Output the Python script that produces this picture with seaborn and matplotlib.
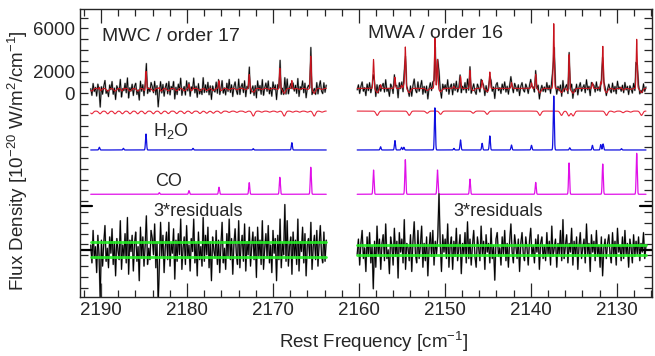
import numpy as np
import pandas as pd
import matplotlib
matplotlib.use('Agg')
import matplotlib.pyplot as plt
from matplotlib.ticker import MultipleLocator, FixedLocator
import seaborn as sns

sns.set_style('ticks')
plt.rcParams['font.family'] = ['Liberation Sans', 'DejaVu Sans']
plt.rcParams['mathtext.fontset'] = 'custom'
plt.rcParams['mathtext.rm'] = 'Liberation Sans'
plt.rcParams['mathtext.it'] = 'Liberation Sans:italic'

# spectral orders (start, end) in cm^-1
segments = [(2191.2, 2163.8), (2160.2, 2126.6)]
panel_names = ['MWC / order 17', 'MWA / order 16']

# CO emission lines
co_freq = [2183.22, 2179.77, 2176.28, 2172.76, 2169.20, 2165.60, 2158.30, 2154.60,
           2150.86, 2147.08, 2139.43, 2135.55, 2131.63, 2127.68]
co_height = [150, 340, 650, 1080, 1570, 2500, 2250, 3200, 2250, 1400, 1100, 2900, 2800, 3800]

# H2O emission lines
h2o_freq = [2190.2, 2187.4, 2184.77, 2179.3, 2172.3, 2167.8, 2157.48, 2155.81, 2155.04,
            2154.77, 2151.16, 2148.95, 2148.18, 2145.66, 2144.77, 2142.25, 2139.92,
            2137.33, 2135.47, 2132.83, 2131.86, 2131.59, 2129.45]
h2o_height = [250, 150, 1480, 150, 120, 680, 300, 870, 250, 250, 3900, 150, 930, 620,
              1300, 460, 430, 5000, 200, 430, 500, 560, 120]

# absorption dips in the model
dip_freq = [2191.08, 2190.12, 2189.22, 2188.37, 2187.52, 2186.63, 2185.73, 2184.88, 2183.92,
            2183.02, 2182.17, 2181.2, 2180.31, 2179.45, 2178.49, 2177.7, 2176.94, 2176.05,
            2175.1, 2174.2, 2173.2, 2172.29, 2171.3, 2170.4, 2169.5, 2168.69, 2167.7, 2166.9,
            2166.0, 2165.2, 2164.3,
            2157.87, 2154.15, 2152.06, 2150.5, 2146.71, 2145.08, 2138.95, 2136.43, 2135.58,
            2135.08, 2131.2, 2130.3, 2129.27, 2128.4, 2127.13]
dip_depth = [250, 250, 250, 250, 250, 250, 250, 250, 250, 250, 230, 230, 230, 220, 220, 200,
             200, 200, 120, 120, 120, 460, 100, 100, 100, 460, 100, 100, 100, 460, 100,
             400, 400, 200, 300, 200, 300, 400, 400, 450, 450, 400, 100, 150, 100, 400]

# 3*residuals (MWC in units of 150, MWA in units of 200)
resid_mwc = [3, -8, 12, -5, 2, -14, 9, -3, -31, 6,
             -10, 4, 15, -7, 1, -11, 8, -2, 13, -9,
             5, -16, 7, 0, -6, 18, -12, 3, -4, 10,
             -8, 20, -15, 6, -1, 9, -13, 4, 11, -7,
             2, -19, 14, -5, 8, -10, 3, 21, -9, 1,
             -6, 12, 7, -3, 16, -11, 5, -34, -8, 17,
             -4, 9, -14, 2, 11, -6, 17, -10, 4, -2,
             13, -18, 6, -7, 10, -3, 19, -12, 1, 8,
             -9, 15, -5, 3, -13, 7, -1, 19, -8, 4,
             -16, 11, -6, 2, -10, 20, -7, 9, -3, 14,
             -11, 5, -19, 8, 0, -5, 12, -9, 6, -14,
             3, 17, -8, 1, -12, 10, -4, 19, -6, 7,
             -15, 4, 13, -2, -9, 18, -11, 3, 9, -7,
             16, -13, 5, -3, 14, -10, 2, 11, -6, 8,
             -17, 14, -4, 6, -9, 18, -12, 1, 10, -5,
             15, -8, 3, -14, 12, -2, 7, -19, 9, -6,
             19, -11, 4, -3, 28, -7, 18, -10, 2, 8,
             -15, 11, -4, 6, -9, 19, -13, 5, -1, 14,
             -8, 10, -16, 3, 7, -5, 17, -12, 2, 9,
             -6, 12, -10, 4, 15, -3, -8, 11, -7, 6]
resid_mwa = [-2, 5, -7, 3, 9, -4, 1, -10, 6, -3,
             8, -6, 2, -18, 4, -8, 11, -2, 5, -9,
             3, 7, -5, 12, -4, 0, -11, 6, 2, -7,
             10, -3, 4, -13, 8, -1, 5, -6, 14, -9,
             3, 1, -5, 7, -10, 4, 13, -2, -6, 9,
             -4, 2, 11, -8, 3, -5, 6, -12, 1, 8,
             -3, 9, -7, 4, -2, 6, 26, 3, -10, 7,
             -1, 5, -4, 12, -8, 2, 6, -9, 4, -3,
             10, -5, 1, 7, -11, 3, -2, 8, -6, 13,
             -4, 5, -7, 2, 9, -3, -8, 6, 1, -5,
             11, -2, 4, -9, 7, -1, 3, -6, 10, -4,
             2, -14, 5, 8, -3, 1, -7, 6, -2, 9,
             -5, 3, -8, 4, 12, -1, -6, 7, 2, -4,
             5, -10, 3, 8, -2, -5, 6, 1, -7, 4,
             10, -3, 2, -6, 5, -1, 7, -9, 3, 6,
             -4, 2, -5, 8, -2, 4, -7, 11, -3, 1,
             5, -8, 3, -2, 9, -5, 14, -4, 2, 7,
             -6, 3, -1, 10, -7, 4, -3, 6, -9, 2,
             8, -4, 1, 5, -6, 12, -2, 3, -10, 7,
             -1, 4, -5, 9, -3, 2, -8, 6, -12, 1,
             5, -4, 3, 7, -2, -6, 8, -3, 4, -7,
             10, -1, 2, -5, 6, -4, 9, -2, 3, -8,
             5, 1, -6, 7, -3, 4, -2, 6, -5, 3,
             -1, 8, -4, 2]
residuals = [np.array(resid_mwc) * 150.0, np.array(resid_mwa) * 200.0]
noise_level = [700, 450]

# vertical offsets of the stacked traces
off_data, off_abs, off_h2o, off_co, off_res = 450, -1650, -5250, -9350, -14500


def lines(x, freq, amp, sigma):
    out = np.zeros_like(x)
    for f, a in zip(freq, amp):
        out += a * np.exp(-0.5 * ((x - f) / sigma) ** 2)
    return out


def models(x):
    co = lines(x, co_freq, co_height, 0.06)
    h2o = lines(x, h2o_freq, h2o_height, 0.06)
    ab = -lines(x, dip_freq, dip_depth, 0.15)
    return co, h2o, ab


fig = plt.figure(figsize=(6.55, 3.56), dpi=100)
ax = fig.add_axes([80 / 655, 1 - 297 / 356, 572 / 655, 288 / 356])

for (x0, x1), res, sig in zip(segments, residuals, noise_level):
    xf = np.linspace(x0, x1, 3000)
    co, h2o, ab = models(xf)
    top_model = 1.2 * (co + h2o) + ab

    xd = np.linspace(x0, x1, len(res))
    cod, h2od, abd = models(xd)
    data = 1.2 * (cod + h2od) + abd + res / 3.0

    sns.lineplot(x=xd, y=data + off_data, ax=ax, color='0.65', lw=1.3, sort=False, estimator=None)
    sns.lineplot(x=xd, y=data + off_data, ax=ax, color='black', lw=0.6, sort=False, estimator=None)
    sns.lineplot(x=xf, y=top_model + off_data, ax=ax, color='#c8141e', lw=0.8, sort=False, estimator=None)
    sns.lineplot(x=xf, y=ab + off_abs, ax=ax, color='#e8283c', lw=0.8, sort=False, estimator=None)
    sns.lineplot(x=xf, y=h2o + off_h2o, ax=ax, color='#1010e0', lw=0.9, sort=False, estimator=None)
    sns.lineplot(x=xf, y=co + off_co, ax=ax, color='#e010e8', lw=0.9, sort=False, estimator=None)

    sns.lineplot(x=xd, y=res + off_res, ax=ax, color='0.55', lw=1.2, sort=False, estimator=None)
    sns.lineplot(x=xd, y=res + off_res, ax=ax, color='black', lw=0.7, sort=False, estimator=None)
    for s in (sig, -sig):
        ax.plot([x0, x1], [off_res + s, off_res + s], color='#22ee22', lw=2.0, alpha=0.9)

ax.set_xlim(2192.45, 2125.9)
ax.set_ylim(-18860, 7800)

ax.xaxis.set_major_locator(MultipleLocator(10))
ax.xaxis.set_minor_locator(MultipleLocator(2))
ax.set_yticks([0, 2000, 6000])
ax.set_yticklabels(['0', '2000', '6000'])
ax.yaxis.set_minor_locator(FixedLocator(np.arange(-18000, 8000, 1000)))
ax.tick_params(axis='both', which='both', direction='in', top=True, right=True,
               labelsize=13.5, width=0.9)
ax.tick_params(axis='x', which='major', length=10)
ax.tick_params(axis='x', which='minor', length=5)
ax.tick_params(axis='y', which='both', length=6)
for yl in (-10400, -14500):
    ax.axhline(yl, xmin=0, xmax=0.021, color='black', lw=1.6)
    ax.axhline(yl, xmin=0.979, xmax=1, color='black', lw=1.6)
for sp in ax.spines.values():
    sp.set_linewidth(1.0)

ax.text(2189.88, 5210, panel_names[0], fontsize=14, va='center', ha='left')
ax.text(2158.95, 5540, panel_names[1], fontsize=14, va='center', ha='left')
ax.text(2183.95, -3500, 'H$_2$O', fontsize=13, va='center', ha='left')
ax.text(2183.72, -8210, 'CO', fontsize=13, va='center', ha='left')
ax.text(2183.95, -10900, '3*residuals', fontsize=13, va='center', ha='left')
ax.text(2149.07, -10900, '3*residuals', fontsize=13, va='center', ha='left')

fig.text(374 / 655, 1 - 342 / 356, 'Rest Frequency [cm$^{-1}$]', fontsize=13.5,
         ha='center', va='center')
fig.text(18 / 655, 1 - 161 / 356, 'Flux Density [10$^{-20}$ W/m$^2$/cm$^{-1}$]',
         fontsize=13.5, ha='center', va='center', rotation=90)

fig.savefig('out.png', dpi=100)
